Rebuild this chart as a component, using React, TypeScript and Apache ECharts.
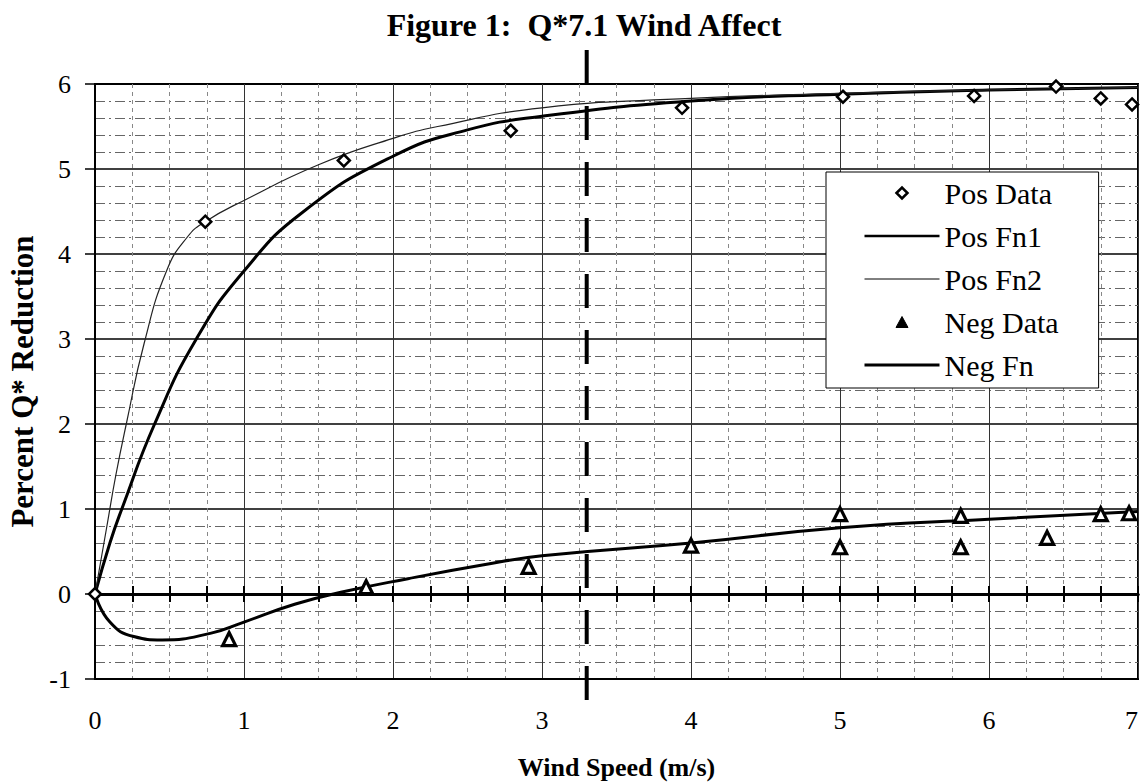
import React, { useEffect, useRef } from "react";
import * as echarts from "echarts";

const FONT = 'Liberation Serif, "Times New Roman", serif';

const titleText = "Figure 1:  Q*7.1 Wind Affect";
const xName = "Wind Speed (m/s)";
const yName = "Percent Q* Reduction";
const legendNames = ["Pos Data", "Pos Fn1", "Pos Fn2", "Neg Data", "Neg Fn"];

const posData: [number, number][] = [
  [0, 0], [0.74, 4.38], [1.67, 5.1], [2.79, 5.45], [3.94, 5.72],
  [5.02, 5.85], [5.9, 5.86], [6.45, 5.97], [6.75, 5.83], [6.96, 5.76],
];

const posFn1: [number, number][] = [
  [0, 0], [0.1, 0.6], [0.18, 1.0], [0.4, 2.0], [0.68, 3.0], [1.0, 3.8],
  [1.4, 4.5], [2.0, 5.15], [2.5, 5.46], [3.0, 5.62], [4.0, 5.8],
  [5.0, 5.88], [6.0, 5.93], [7.0, 5.96],
];

const posFn2: [number, number][] = [
  [0, 0], [0.08, 0.8], [0.14, 1.4], [0.21, 2.0], [0.33, 2.95], [0.48, 3.8],
  [0.62, 4.2], [0.74, 4.38], [1.0, 4.63], [1.5, 5.05], [2.0, 5.36],
  [2.3, 5.5], [3.0, 5.72], [4.0, 5.83], [5.0, 5.89], [6.0, 5.93], [7.0, 5.96],
];

const negData: [number, number][] = [
  [0.9, -0.53], [1.82, 0.08], [2.91, 0.32], [4.0, 0.57], [5.0, 0.94],
  [5.0, 0.55], [5.81, 0.92], [5.81, 0.55], [6.39, 0.66], [6.75, 0.94], [6.94, 0.95],
];

const negFn: [number, number][] = [
  [0, 0], [0.1, -0.33], [0.26, -0.5], [0.45, -0.54], [0.78, -0.46], [1.0, -0.33],
  [1.34, -0.12], [1.65, 0.02], [2.1, 0.18], [2.6, 0.34], [3.0, 0.45],
  [4.0, 0.6], [5.0, 0.78], [6.0, 0.88], [7.0, 0.97],
];

const markerLine: [number, number][] = [[3.3, 6.4], [3.3, -1.25]];

// legend icons drawn inside a 75x14 box (the first two moves fix the box)
const BOX = "M0,0 M75,14 ";
const iconDiamond = "path://" + BOX + "M32,7 L37.5,1.5 L43,7 L37.5,12.5 Z";
const iconTriangle = "path://" + BOX + "M37.5,1.5 L43.5,12.5 L31.5,12.5 Z";
const iconLine = "path://" + BOX + "M0,7 L75,7";

export default function App() {
  const ref = useRef<HTMLDivElement>(null);
  useEffect(() => {
    if (!ref.current) return;
    const chart = echarts.init(ref.current, undefined, { renderer: "svg" });
    const zeroAxis = (inside: boolean) => ({
      type: "value",
      min: 0,
      max: 7,
      interval: 0.25,
      position: "bottom",
      axisLine: { show: true, onZero: true, onZeroAxisIndex: 0, lineStyle: { color: "#000", width: 3 } },
      axisTick: { show: true, inside, length: 8, lineStyle: { color: "#000", width: 2 } },
      axisLabel: { show: false },
      splitLine: { show: false },
    });
    const lineItem = (name: string, w: number) => ({
      name,
      icon: iconLine,
      itemStyle: { color: "none", borderColor: "#000", borderWidth: w },
    });
    chart.setOption({
      animation: false,
      backgroundColor: "#fff",
      textStyle: { fontFamily: FONT },
      title: {
        text: titleText,
        left: 579,
        top: 4,
        textAlign: "center",
        textStyle: { fontSize: 32, fontWeight: "bold", fontFamily: FONT, color: "#000" },
      },
      grid: {
        left: 95,
        right: 3,
        top: 84,
        bottom: 104,
        show: true,
        borderColor: "#000",
        borderWidth: 2,
        outerBoundsMode: "none",
      },
      legend: {
        data: [
          {
            name: legendNames[0],
            icon: iconDiamond,
            itemStyle: { color: "#fff", borderColor: "#000", borderWidth: 2.5 },
          },
          lineItem(legendNames[1], 2.5),
          lineItem(legendNames[2], 1),
          {
            name: legendNames[3],
            icon: iconTriangle,
            itemStyle: { color: "#000", borderColor: "#000", borderWidth: 1 },
          },
          lineItem(legendNames[4], 3),
        ],
        orient: "vertical",
        left: 826,
        top: 172,
        itemWidth: 75,
        itemHeight: 14,
        itemGap: 13,
        padding: [6, 40, 8, 36],
        backgroundColor: "#fff",
        borderColor: "#000",
        borderWidth: 1,
        selectedMode: false,
        textStyle: { fontSize: 30, lineHeight: 30, color: "#000", fontFamily: FONT },
      },
      xAxis: [
        {
          type: "value",
          min: 0,
          max: 7,
          interval: 1,
          position: "bottom",
          name: xName,
          nameLocation: "middle",
          nameGap: 75,
          nameTextStyle: { fontSize: 26, fontWeight: "bold", color: "#000", fontFamily: FONT },
          axisLine: { show: true, onZero: false, lineStyle: { color: "#000", width: 2 } },
          axisTick: { show: false },
          axisLabel: { fontSize: 26, color: "#000", fontFamily: FONT, margin: 28, alignMaxLabel: "right" },
          splitLine: { show: true, lineStyle: { color: "#333", width: 1 } },
          minorTick: { show: false, splitNumber: 4 },
          minorSplitLine: { show: true, lineStyle: { color: "#888", width: 1, type: [4, 4] } },
        },
        zeroAxis(false),
        zeroAxis(true),
      ],
      yAxis: {
        type: "value",
        min: -1,
        max: 6,
        interval: 1,
        name: yName,
        nameLocation: "middle",
        nameGap: 55,
        nameTextStyle: { fontSize: 31, fontWeight: "bold", color: "#000", fontFamily: FONT },
        axisLine: { show: true, onZero: false, lineStyle: { color: "#000", width: 2 } },
        axisTick: { show: true, length: 10, lineStyle: { color: "#000", width: 1.5 } },
        axisLabel: { fontSize: 26, color: "#000", fontFamily: FONT, margin: 24 },
        splitLine: { show: true, lineStyle: { color: "#000", width: 1.5 } },
        minorTick: { show: false, splitNumber: 5 },
        minorSplitLine: { show: true, lineStyle: { color: "#666", width: 1, type: [10, 4, 2, 4] } },
      },
      series: [
        {
          name: "Pos Data",
          type: "scatter",
          data: posData,
          symbol: "diamond",
          symbolSize: 12,
          itemStyle: { color: "#fff", borderColor: "#000", borderWidth: 2.5, opacity: 1 },
          z: 5,
        },
        {
          name: "Pos Fn1",
          type: "line",
          data: posFn1,
          symbol: "none",
          showSymbol: false,
          smooth: 0.5,
          lineStyle: { color: "#000", width: 3 },
          itemStyle: { color: "#000" },
        },
        {
          name: "Pos Fn2",
          type: "line",
          data: posFn2,
          symbol: "none",
          showSymbol: false,
          smooth: 0.5,
          lineStyle: { color: "#222", width: 1.2 },
          itemStyle: { color: "#222" },
        },
        {
          name: "Neg Data",
          type: "scatter",
          data: negData,
          symbol: "triangle",
          symbolSize: 13,
          itemStyle: { color: "#fff", borderColor: "#000", borderWidth: 3.2, opacity: 1 },
          z: 5,
        },
        {
          name: "Neg Fn",
          type: "line",
          data: negFn,
          symbol: "none",
          showSymbol: false,
          smooth: 0.5,
          lineStyle: { color: "#000", width: 3 },
          itemStyle: { color: "#000" },
        },
        {
          name: "marker",
          type: "line",
          data: markerLine,
          symbol: "none",
          showSymbol: false,
          clip: false,
          silent: true,
          lineStyle: { color: "#000", width: 4, type: [34, 22] },
          z: 6,
        },
      ],
    });
    return () => chart.dispose();
  }, []);
  return (
    <div
      ref={ref}
      style={{ position: "absolute", left: 0, top: 0, width: 1141, height: 783, background: "#fff" }}
    />
  );
}
